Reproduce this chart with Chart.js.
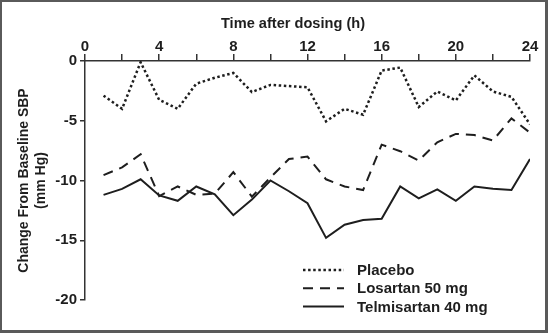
<!DOCTYPE html>
<html>
<head>
<meta charset="utf-8">
<script src="https://cdn.jsdelivr.net/npm/chart.js@4.4.0/dist/chart.umd.min.js"></script>
<style>
  html, body { margin: 0; padding: 0; background: #fff; }
  #wrap {
    width: 548px; height: 333px; box-sizing: border-box;
    border: 2px solid #5a5a5a; border-right-width: 3px; border-bottom-width: 3px;
    background: #fff;
  }
  #bpChart { display: block; }
</style>
</head>
<body>
<div id="wrap"><canvas id="bpChart" width="543" height="328"></canvas></div>
<script>
    // hours after dosing
    const hours = [1, 2, 3, 4, 5, 6, 7, 8, 9, 10, 11, 12, 13, 14, 15, 16, 17, 18, 19, 20, 21, 22, 23, 24];

    // change from baseline SBP (mm Hg)
    const placebo = [-2.9, -4.0, -0.1, -3.25, -4.0, -1.9, -1.4, -1.0, -2.6, -2.0, -2.1, -2.2,
                     -5.05, -4.0, -4.5, -0.8, -0.55, -3.85, -2.55, -3.3, -1.2, -2.55, -3.0, -5.3];
    const losartan = [-9.55, -8.9, -7.8, -11.3, -10.5, -11.2, -11.1, -9.3, -11.35, -9.75, -8.2, -8.0,
                      -9.9, -10.5, -10.8, -7.0, -7.55, -8.33, -6.8, -6.1, -6.2, -6.65, -4.8, -6.0];
    const telmisartan = [-11.2, -10.7, -9.9, -11.25, -11.7, -10.5, -11.15, -12.9, -11.6, -10.0, -10.9, -11.9,
                         -14.8, -13.7, -13.3, -13.2, -10.5, -11.5, -10.75, -11.7, -10.5, -10.7, -10.8, -8.2];

    const seriesLabels = ['Placebo', 'Losartan 50 mg', 'Telmisartan 40 mg'];
    const xTitle = 'Time after dosing (h)';
    const yTitle = ['Change From Baseline SBP', '(mm Hg)'];

    const ink = '#1e1e1e';
    const fontFam = '"Liberation Sans", Arial, sans-serif';

    function toPoints(vals) {
        return hours.map((h, i) => ({ x: h, y: vals[i] }));
    }

    // x title sits a bit left of the plot centre in the original, so draw it here
    // legend is drawn inside the plot, lower right
    const extraText = {
        id: 'extraText',
        afterDraw(chart) {
            const ctx = chart.ctx;
            const area = chart.chartArea;
            ctx.save();
            ctx.fillStyle = ink;
            ctx.font = 'bold 14.6px ' + fontFam;
            ctx.textAlign = 'center';
            ctx.textBaseline = 'alphabetic';
            ctx.fillText(xTitle, area.left + 208, 26);

            const x0 = area.left + 218;
            const y0 = area.top + 209;
            ctx.font = 'bold 15px ' + fontFam;
            ctx.textAlign = 'left';
            ctx.textBaseline = 'middle';
            chart.data.datasets.forEach((ds, i) => {
                const y = y0 + i * 18.3;
                ctx.strokeStyle = ds.borderColor;
                ctx.lineWidth = ds.borderWidth;
                ctx.setLineDash(ds.borderDash || []);
                ctx.beginPath();
                ctx.moveTo(x0, y);
                ctx.lineTo(x0 + 41, y);
                ctx.stroke();
                ctx.setLineDash([]);
                ctx.fillText(ds.label, x0 + 54, y + 1);
            });
            ctx.restore();
        }
    };

    const ctx = document.getElementById('bpChart').getContext('2d');
    const bpChart = new Chart(ctx, {
        type: 'line',
        data: {
            datasets: [{
                label: seriesLabels[0],
                data: toPoints(placebo),
                borderColor: ink,
                borderWidth: 2.5,
                borderDash: [2.5, 2.6],
            }, {
                label: seriesLabels[1],
                data: toPoints(losartan),
                borderColor: ink,
                borderWidth: 2,
                borderDash: [10, 7],
            }, {
                label: seriesLabels[2],
                data: toPoints(telmisartan),
                borderColor: ink,
                borderWidth: 2,
            }]
        },
        options: {
            responsive: false,
            animation: false,
            elements: {
                line: { tension: 0, fill: false },
                point: { radius: 0 }
            },
            layout: { padding: { left: 0, top: 0, right: 15, bottom: 30 } },
            plugins: {
                legend: { display: false },
                tooltip: { enabled: false }
            },
            scales: {
                x: {
                    type: 'linear',
                    position: 'top',
                    min: 0,
                    max: 24,
                    afterFit(scale) { scale.height = 59; },
                    ticks: {
                        stepSize: 2,
                        color: ink,
                        padding: -2,
                        maxRotation: 0,
                        autoSkip: false,
                        font: { family: fontFam, size: 15, weight: 'bold' },
                        callback: function (v) { return v % 4 === 0 ? v : ''; }
                    },
                    grid: {
                        drawOnChartArea: false,
                        tickLength: 7,
                        color: '#333',
                        lineWidth: 1.5
                    },
                    border: { color: '#333', width: 1.5 }
                },
                y: {
                    min: -20,
                    max: 0,
                    afterFit(scale) { scale.width = 83; },
                    title: {
                        display: true,
                        text: yTitle,
                        color: ink,
                        font: { family: fontFam, size: 14, weight: 'bold', lineHeight: 1.25 },
                        padding: { top: 13, bottom: 0 }
                    },
                    ticks: {
                        stepSize: 5,
                        color: ink,
                        padding: 3,
                        font: { family: fontFam, size: 15, weight: 'bold' }
                    },
                    grid: {
                        drawOnChartArea: false,
                        tickLength: 5,
                        color: '#333',
                        lineWidth: 1.5
                    },
                    border: { color: '#333', width: 1.5 }
                }
            }
        },
        plugins: [extraText]
    });
</script>
</body>
</html>
